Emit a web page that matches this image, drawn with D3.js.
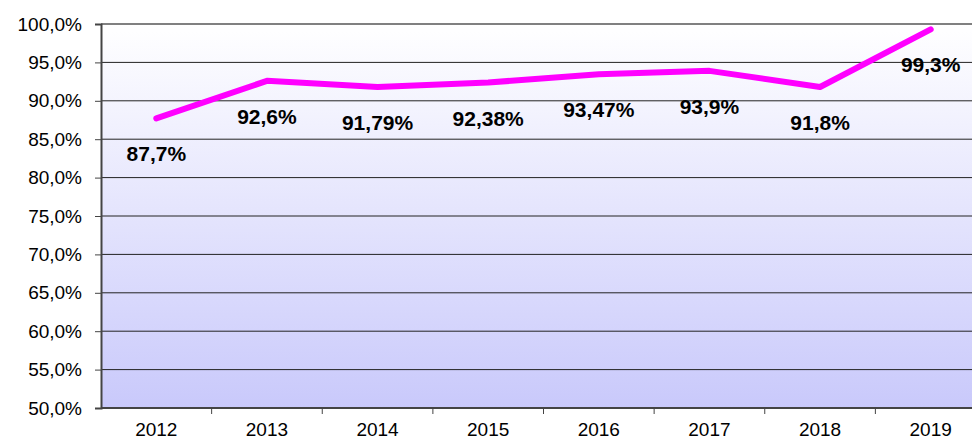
<!DOCTYPE html>
<html>
  <head>
    <meta charset="utf-8" />
    <title>Line Chart</title>
    <script src="https://d3js.org/d3.v7.min.js"></script>
    <style>
        body { margin: 0; background: #fff; }
        svg { display: block; font-family: "Liberation Sans", Arial, sans-serif; }
    </style>
  </head>
  <body>
    <svg id="chart"></svg>
    <script>
        var years = ["2012", "2013", "2014", "2015", "2016", "2017", "2018", "2019"];
        var values = [87.7, 92.6, 91.79, 92.38, 93.47, 93.9, 91.8, 99.3];
        var labels = ["87,7%", "92,6%", "91,79%", "92,38%", "93,47%", "93,9%", "91,8%", "99,3%"];
        var yTicks = [50, 55, 60, 65, 70, 75, 80, 85, 90, 95, 100];

        var width = 972, height = 441;
        var margin = {top: 24, left: 101, bottom: 33};
        var plotRight = 986;

        var svg = d3.select("#chart").attr("width", width).attr("height", height);

        var x = d3.scaleBand().domain(years).range([margin.left, plotRight]);
        var y = d3.scaleLinear().domain([50, 100]).range([height - margin.bottom, margin.top]);

        var defs = svg.append("defs");
        var grad = defs.append("linearGradient")
            .attr("id", "bg").attr("x1", 0).attr("y1", 0).attr("x2", 0).attr("y2", 1);
        grad.append("stop").attr("offset", "0%").attr("stop-color", "#ffffff");
        grad.append("stop").attr("offset", "100%").attr("stop-color", "#c9c9fb");

        svg.append("rect")
            .attr("x", margin.left).attr("y", y(100))
            .attr("width", plotRight - margin.left).attr("height", y(50) - y(100))
            .attr("fill", "url(#bg)");

        // gridlines
        svg.append("g").selectAll("line")
            .data(yTicks.slice(1))
            .enter().append("line")
            .attr("x1", margin.left).attr("x2", plotRight)
            .attr("y1", function(d) { return y(d); })
            .attr("y2", function(d) { return y(d); })
            .attr("stroke", function(d) { return d === 100 ? "#808080" : "#222"; })
            .attr("stroke-width", function(d) { return d === 100 ? 2 : 1; });

        // y axis
        var yAxis = d3.axisLeft(y).tickValues(yTicks).tickSize(6).tickPadding(13)
            .tickFormat(function(d) { return d3.format(".1f")(d).replace(".", ",") + "%"; });
        var gy = svg.append("g").attr("transform", "translate(" + margin.left + ",0)").call(yAxis);
        gy.select(".domain").attr("stroke", "#444").attr("stroke-width", 2);
        gy.selectAll(".tick line").attr("stroke", "#444");
        gy.selectAll("text").attr("font-size", 19).attr("fill", "#000").attr("font-family", "Liberation Sans, Arial");

        // x axis with ticks between categories
        var gx = svg.append("g").attr("transform", "translate(0," + y(50) + ")");
        gx.append("line").attr("x1", margin.left).attr("x2", plotRight)
            .attr("stroke", "#444").attr("stroke-width", 2);
        gx.selectAll(".tk").data(years.slice(1)).enter().append("line")
            .attr("x1", function(d) { return x(d); }).attr("x2", function(d) { return x(d); })
            .attr("y1", 0).attr("y2", 6).attr("stroke", "#444");
        gx.selectAll(".lbl").data(years).enter().append("text")
            .attr("x", function(d) { return x(d) + x.bandwidth() / 2; })
            .attr("y", 28).attr("text-anchor", "middle")
            .attr("font-size", 19).text(function(d) { return d; });

        // line
        var line = d3.line()
            .x(function(d, i) { return x(years[i]) + x.bandwidth() / 2; })
            .y(function(d) { return y(d); });
        svg.append("path").datum(values)
            .attr("d", line).attr("fill", "none")
            .attr("stroke", "#ff00ff").attr("stroke-width", 6)
            .attr("stroke-linecap", "round").attr("stroke-linejoin", "round");

        // data labels
        svg.append("g").selectAll("text").data(values).enter().append("text")
            .attr("x", function(d, i) { return x(years[i]) + x.bandwidth() / 2; })
            .attr("y", function(d) { return y(d) + 43; })
            .attr("text-anchor", "middle").attr("font-size", 21).attr("font-weight", "bold")
            .text(function(d, i) { return labels[i]; });
    </script>
  </body>
</html>
